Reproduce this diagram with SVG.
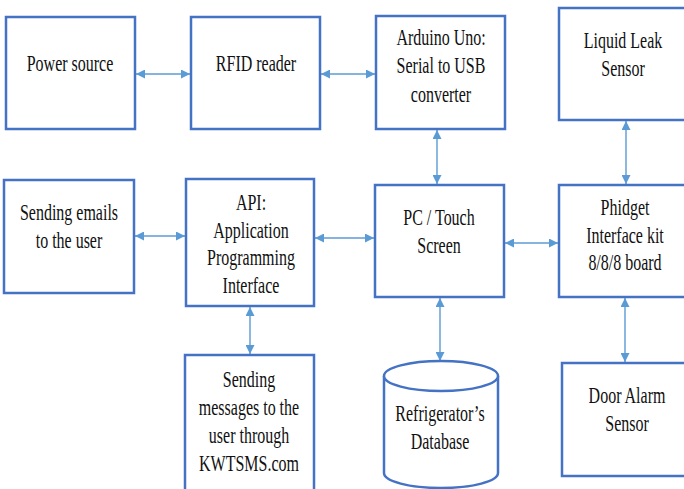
<svg xmlns="http://www.w3.org/2000/svg" width="684" height="489" viewBox="0 0 684 489">
<style>
.box{fill:#fff;stroke:#4472C4;stroke-width:2.5}
.lbl{font-family:"Liberation Serif","Times New Roman",serif;font-size:16px;fill:#111;text-anchor:middle}
.con{stroke:#5B9BD5;stroke-width:1.4;fill:none;marker-start:url(#ah);marker-end:url(#ah)}
</style>
<defs>
<marker id="ah" viewBox="0 0 10 10" refX="10" refY="5" markerWidth="9" markerHeight="9" markerUnits="userSpaceOnUse" orient="auto-start-reverse">
<path d="M0,0 L10,5 L0,10 Z" fill="#5B9BD5"/>
</marker>
</defs>
<rect width="684" height="489" fill="#fff"/>
<g id="connectors">
<line class="con" x1="136" y1="74" x2="190" y2="74"/>
<line class="con" x1="321" y1="74" x2="375" y2="74"/>
<line class="con" x1="437" y1="130" x2="437" y2="184"/>
<line class="con" x1="626" y1="121" x2="626" y2="184"/>
<line class="con" x1="135" y1="236" x2="185" y2="236"/>
<line class="con" x1="315" y1="238" x2="374" y2="238"/>
<line class="con" x1="505" y1="243" x2="558" y2="243"/>
<line class="con" x1="250" y1="307" x2="250" y2="354"/>
<line class="con" x1="440" y1="298" x2="440" y2="361"/>
<line class="con" x1="625" y1="298" x2="625" y2="362"/>
</g>
<g id="power">
<rect class="box" x="6" y="17" width="129" height="112"/>
<text class="lbl" transform="translate(70,71) scale(1,1.42)">Power source</text>
</g>
<g id="rfid">
<rect class="box" x="191" y="17" width="129" height="112"/>
<text class="lbl" transform="translate(256,71) scale(1,1.42)">RFID reader</text>
</g>
<g id="arduino">
<rect class="box" x="376" y="16" width="129" height="113"/>
<text class="lbl" transform="translate(441,45) scale(1,1.42)"><tspan x="0" y="0">Arduino Uno:</tspan><tspan x="0" y="20">Serial to USB</tspan><tspan x="0" y="40">converter</tspan></text>
</g>
<g id="leak">
<rect class="box" x="559" y="8" width="130" height="112"/>
<text class="lbl" transform="translate(623,48) scale(1,1.42)"><tspan x="0" y="0">Liquid Leak</tspan><tspan x="0" y="20">Sensor</tspan></text>
</g>
<g id="emails">
<rect class="box" x="4" y="180" width="130" height="113"/>
<text class="lbl" transform="translate(69,220) scale(1,1.42)"><tspan x="0" y="0">Sending emails</tspan><tspan x="0" y="20">to the user</tspan></text>
</g>
<g id="api">
<rect class="box" x="186" y="179" width="128" height="127"/>
<text class="lbl" transform="translate(251,210) scale(1,1.42)"><tspan x="0" y="0">API:</tspan><tspan x="0" y="19.4">Application</tspan><tspan x="0" y="38.8">Programming</tspan><tspan x="0" y="58.2">Interface</tspan></text>
</g>
<g id="pc">
<rect class="box" x="375" y="185" width="129" height="112"/>
<text class="lbl" transform="translate(439,225) scale(1,1.42)"><tspan x="0" y="0">PC / Touch</tspan><tspan x="0" y="20">Screen</tspan></text>
</g>
<g id="phidget">
<rect class="box" x="559" y="185" width="130" height="112"/>
<text class="lbl" transform="translate(625,215) scale(1,1.42)"><tspan x="0" y="0">Phidget</tspan><tspan x="0" y="19.5">Interface kit</tspan><tspan x="0" y="39">8/8/8 board</tspan></text>
</g>
<g id="kwtsms">
<rect class="box" x="185" y="355" width="129" height="140"/>
<text class="lbl" transform="translate(249,387) scale(1,1.42)"><tspan x="0" y="0">Sending</tspan><tspan x="0" y="19.7">messages to the</tspan><tspan x="0" y="39.4">user through</tspan><tspan x="0" y="59.1">KWTSMS.com</tspan></text>
</g>
<g id="database">
<path class="box" d="M384,376 L384,473 A57,15 0 0,0 498,473 L498,376"/>
<ellipse class="box" cx="441" cy="376" rx="57" ry="15"/>
<text class="lbl" transform="translate(440,421) scale(1,1.42)"><tspan x="0" y="0">Refrigerator’s</tspan><tspan x="0" y="20">Database</tspan></text>
</g>
<g id="door">
<rect class="box" x="562" y="363" width="127" height="113"/>
<text class="lbl" transform="translate(627,403) scale(1,1.42)"><tspan x="0" y="0">Door Alarm</tspan><tspan x="0" y="20">Sensor</tspan></text>
</g>
</svg>
